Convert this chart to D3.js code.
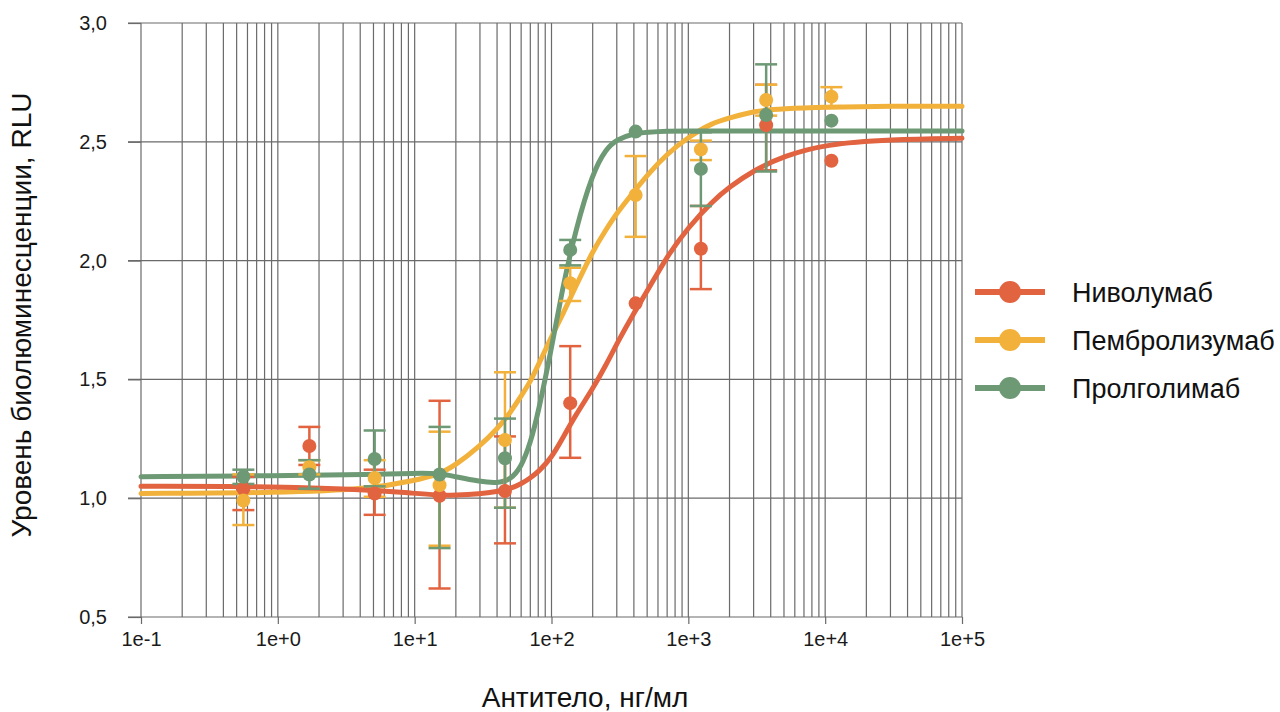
<!DOCTYPE html>
<meta charset="utf-8">
<style>
  body { margin: 0; background: #fff; }
  svg { display: block; font-family: "Liberation Sans", Arial, sans-serif; }
  .grid line { stroke: #6a6a6a; stroke-width: 1.2px; }
  .axis text { font-size: 20px; fill: #1a1a1a; }
  .axis path, .axis line { stroke: #6a6a6a; stroke-width: 1.2px; }
  .curve { fill: none; stroke-width: 5px; stroke-linecap: round; }
</style>
<body>
<script src="https://cdn.jsdelivr.net/npm/d3@7/dist/d3.min.js"></script>
<script>

// measured concentrations, ng/ml (3-fold dilution)
var conc = [0.56, 1.7, 5.1, 15.2, 45.7, 137, 412, 1235, 3704, 11111];

var names = ["Ниволумаб", "Пембролизумаб", "Пролголимаб"];
var colors = ["#e2633f", "#f2b13b", "#6d9974"];

// mean RLU
var nivoMean  = [1.04, 1.22, 1.02, 1.01, 1.03, 1.40, 1.82, 2.05, 2.57, 2.42];
var pembMean  = [0.99, 1.13, 1.085, 1.055, 1.245, 1.905, 2.276, 2.468, 2.676, 2.69];
var prolMean  = [1.09, 1.10, 1.165, 1.10, 1.168, 2.045, 2.543, 2.386, 2.613, 2.589];

// error bar ends (null = no bar)
var nivoHi = [1.09, 1.30, 1.12, 1.41, 1.26, 1.64, null, 2.23, 2.74, null];
var nivoLo = [0.95, 1.14, 0.93, 0.62, 0.81, 1.17, null, 1.88, 2.38, null];
var pembHi = [1.10, 1.16, 1.16, 1.28, 1.53, 1.97, 2.44, 2.505, 2.74, 2.73];
var pembLo = [0.887, 1.10, 1.006, 0.80, 0.96, 1.83, 2.10, 2.423, 2.61, 2.65];
var prolHi = [1.12, 1.16, 1.285, 1.30, 1.335, 2.087, null, 2.54, 2.826, null];
var prolLo = [1.06, 1.04, 1.05, 0.79, 0.96, 1.98, null, 2.23, 2.375, null];

// fitted curves
var curveConc = [0.1, 1, 5, 10, 15, 20, 30, 40, 50, 60, 70, 80, 100, 120, 150, 200,
                 250, 300, 400, 500, 700, 1000, 1500, 2000, 3000, 5000, 10000, 30000, 100000];
var nivoCurve = [1.05, 1.05, 1.035, 1.02, 1.013, 1.012, 1.018, 1.028, 1.04, 1.06, 1.085, 1.11, 1.17, 1.25, 1.35, 1.46,
                 1.56, 1.65, 1.78, 1.87, 2.02, 2.14, 2.25, 2.31, 2.38, 2.44, 2.49, 2.51, 2.515];
var pembCurve = [1.02, 1.022, 1.04, 1.075, 1.10, 1.14, 1.22, 1.29, 1.36, 1.43, 1.49, 1.56, 1.68, 1.77, 1.89, 2.04,
                 2.13, 2.20, 2.29, 2.36, 2.45, 2.52, 2.58, 2.60, 2.63, 2.64, 2.645, 2.65, 2.65];
var prolCurve = [1.09, 1.095, 1.10, 1.105, 1.105, 1.09, 1.07, 1.063, 1.077, 1.13, 1.23, 1.36, 1.63, 1.88, 2.13, 2.37,
                 2.47, 2.51, 2.535, 2.54, 2.545, 2.545, 2.545, 2.545, 2.545, 2.545, 2.545, 2.545, 2.545];

var yTicks = [0.5, 1.0, 1.5, 2.0, 2.5, 3.0];
var xTicks = [0.1, 1, 10, 100, 1000, 10000, 100000];

var series = [
  {name: names[0], color: colors[0], mean: nivoMean, hi: nivoHi, lo: nivoLo, curve: nivoCurve},
  {name: names[1], color: colors[1], mean: pembMean, hi: pembHi, lo: pembLo, curve: pembCurve},
  {name: names[2], color: colors[2], mean: prolMean, hi: prolHi, lo: prolLo, curve: prolCurve}
];

var W = 1280, H = 712;
var x = d3.scaleLog().domain([0.1, 100000]).range([141, 962]);
var y = d3.scaleLinear().domain([0.5, 3]).range([617, 23]);

var svg = d3.select("body").append("svg")
    .attr("width", W)
    .attr("height", H);

// grid
var grid = svg.append("g").attr("class", "grid");
grid.selectAll(".v")
    .data(x.ticks())
  .enter().append("line")
    .attr("x1", function(d) { return x(d); })
    .attr("x2", function(d) { return x(d); })
    .attr("y1", y(3))
    .attr("y2", y(0.5));
grid.selectAll(".h")
    .data(yTicks)
  .enter().append("line")
    .attr("x1", 128)
    .attr("x2", x(100000))
    .attr("y1", function(d) { return y(d); })
    .attr("y2", function(d) { return y(d); });

// axes
svg.append("g")
    .attr("class", "axis")
    .attr("transform", "translate(0," + y(0.5) + ")")
    .call(d3.axisBottom(x).tickValues(xTicks).tickFormat(d3.format(".0e")).tickSize(7).tickPadding(8))
    .call(function(g) { g.select(".domain").remove(); });

svg.append("g")
    .attr("class", "axis")
    .attr("transform", "translate(" + x(0.1) + ",0)")
    .call(d3.axisLeft(y).tickValues(yTicks)
          .tickFormat(function(d) { return d3.format(".1f")(d).replace(".", ","); })
          .tickSize(13).tickPadding(21))
    .call(function(g) { g.select(".domain").remove(); });

// curves
var line = d3.line()
    .x(function(d) { return x(d[0]); })
    .y(function(d) { return y(d[1]); })
    .curve(d3.curveBasis);

[1, 2, 0].forEach(function(i) {
  var s = series[i];
  svg.append("path")
      .attr("class", "curve")
      .attr("stroke", s.color)
      .attr("d", line(curveConc.map(function(c, k) { return [c, s.curve[k]]; })));
});

// error bars + points
series.forEach(function(s) {
  var g = svg.append("g").attr("stroke", s.color).attr("fill", s.color);
  conc.forEach(function(c, k) {
    if (s.hi[k] == null) return;
    var cx = x(c);
    g.append("line").attr("x1", cx).attr("x2", cx)
        .attr("y1", y(s.hi[k])).attr("y2", y(s.lo[k])).attr("stroke-width", 2.5);
    [s.hi[k], s.lo[k]].forEach(function(v) {
      g.append("line").attr("x1", cx - 11).attr("x2", cx + 11)
          .attr("y1", y(v)).attr("y2", y(v)).attr("stroke-width", 2.5);
    });
  });
});
series.forEach(function(s) {
  svg.append("g").attr("fill", s.color)
    .selectAll("circle")
    .data(conc)
  .enter().append("circle")
    .attr("cx", function(d) { return x(d); })
    .attr("cy", function(d, k) { return y(s.mean[k]); })
    .attr("r", 7);
});

// legend
var leg = svg.append("g");
series.forEach(function(s, i) {
  var ly = 292 + i * 48;
  leg.append("line").attr("x1", 975).attr("x2", 1045).attr("y1", ly).attr("y2", ly)
      .attr("stroke", s.color).attr("stroke-width", 6);
  leg.append("circle").attr("cx", 1010).attr("cy", ly).attr("r", 11).attr("fill", s.color);
  leg.append("text").attr("x", 1072).attr("y", ly).attr("dy", "0.36em")
      .style("font-size", "27px").attr("fill", "#111").text(s.name);
});

// titles
svg.append("text")
    .attr("transform", "translate(31,315) rotate(-90)")
    .attr("text-anchor", "middle")
    .style("font-size", "28px").attr("fill", "#111")
    .text("Уровень биолюминесценции, RLU");

svg.append("text")
    .attr("x", 585).attr("y", 707)
    .attr("text-anchor", "middle")
    .style("font-size", "28px").attr("fill", "#111")
    .text("Антитело, нг/мл");

</script>
</body>
